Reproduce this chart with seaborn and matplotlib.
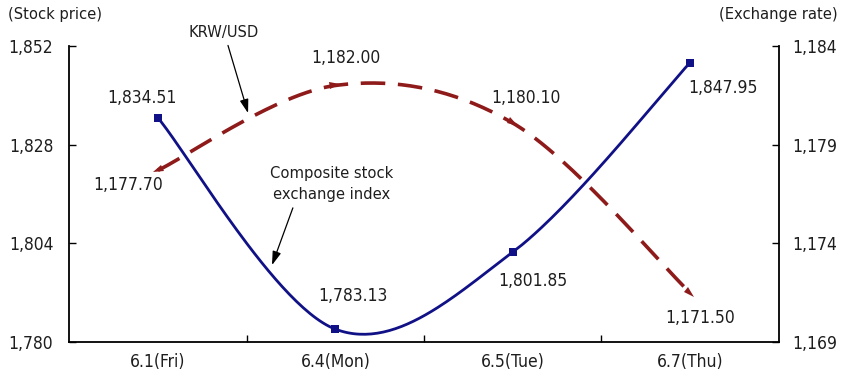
import numpy as np
import pandas as pd
import matplotlib
matplotlib.use("Agg")
import matplotlib.pyplot as plt
from matplotlib.markers import MarkerStyle
from matplotlib.transforms import Affine2D
import seaborn as sns

# ---- data ----
dates = ["6.1(Fri)", "6.4(Mon)", "6.5(Tue)", "6.7(Thu)"]
stock_index = [1834.51, 1783.13, 1801.85, 1847.95]
krw_usd = [1177.70, 1182.00, 1180.10, 1171.50]
stock_ticks = [1780, 1804, 1828, 1852]
fx_ticks = [1169, 1174, 1179, 1184]
stock_labels = ["1,834.51", "1,783.13", "1,801.85", "1,847.95"]
fx_labels = ["1,177.70", "1,182.00", "1,180.10", "1,171.50"]

sns.set_theme(style="white")
plt.rcParams["font.family"] = ["DejaVu Sans"]
plt.rcParams["font.stretch"] = "condensed"
TXT = "#1e1e1e"
BLUE = "#111187"
RED = "#8e1a1a"
FS = 12.5
FS_TXT = 11.8


def smooth(xs, ys, n=60):
    """Piecewise cubic Bezier through the points (spreadsheet-style smoothing)."""
    pts = np.column_stack([xs, ys]).astype(float)
    pad = np.vstack([pts[0], pts, pts[-1]])
    out = []
    t = np.linspace(0, 1, n)[:, None]
    for i in range(len(pts) - 1):
        p0, p3 = pts[i], pts[i + 1]
        c1 = p0 + (pad[i + 2] - pad[i]) / 6
        c2 = p3 - (pad[i + 3] - pad[i + 1]) / 6
        seg = (1 - t) ** 3 * p0 + 3 * (1 - t) ** 2 * t * c1 + 3 * (1 - t) * t ** 2 * c2 + t ** 3 * p3
        out.append(seg if i == 0 else seg[1:])
    return np.vstack(out)


xpos = np.arange(len(dates))
stock_curve = pd.DataFrame(smooth(xpos, stock_index), columns=["x", "y"])
fx_curve = pd.DataFrame(smooth(xpos, krw_usd), columns=["x", "y"])

W, H = 842, 384
fig = plt.figure(figsize=(W / 100, H / 100), dpi=100)
ax = fig.add_axes([69.3 / W, 42 / H, (778.7 - 69.3) / W, 296 / H])
ax2 = ax.twinx()

# stock index line (left axis)
sns.lineplot(data=stock_curve, x="x", y="y", ax=ax, color=BLUE, lw=2.0,
             sort=False, estimator=None, legend=False)
sns.scatterplot(x=xpos, y=stock_index, ax=ax, color=BLUE, marker="s", s=28,
                edgecolor=BLUE, linewidth=0, zorder=5, legend=False)

# exchange rate line (right axis)
sns.lineplot(data=fx_curve, x="x", y="y", ax=ax2, color=RED, lw=2.6,
             sort=False, estimator=None, legend=False)
ax2.lines[-1].set_dashes([6.8, 3.5])

ax.set_xlim(-0.5, len(dates) - 0.5)
ax.set_ylim(stock_ticks[0], stock_ticks[-1])
ax2.set_ylim(fx_ticks[0], fx_ticks[-1])
fig.canvas.draw()

# small arrowheads on the exchange-rate points, oriented along the curve
disp = ax2.transData.transform(np.column_stack([xpos, krw_usd]))
for i in range(len(xpos)):
    a = disp[min(i + 1, len(xpos) - 1)] - disp[max(i - 1, 0)]
    ang = np.degrees(np.arctan2(a[1], a[0]))
    if i == 0:
        ang += 180
    m = MarkerStyle(">", transform=Affine2D().scale(1.3, 0.8).rotate_deg(ang))
    ax2.plot(xpos[i], krw_usd[i], marker=m, color=RED, ms=6, mew=0, zorder=6)

# spines and ticks
for s in ["top", "right"]:
    ax.spines[s].set_visible(False)
for s in ["top", "left", "bottom"]:
    ax2.spines[s].set_visible(False)
for sp in [ax.spines["left"], ax.spines["bottom"], ax2.spines["right"]]:
    sp.set_color("black")
    sp.set_linewidth(1.3)

ax.set_yticks(stock_ticks)
ax.set_yticklabels([f"{v:,}" for v in stock_ticks])
ax2.set_yticks(fx_ticks)
ax2.set_yticklabels([f"{v:,}" for v in fx_ticks])
ax.tick_params(axis="y", direction="in", length=5, width=1, color="black",
               pad=11.5, labelsize=FS, labelcolor=TXT, left=True)
ax2.tick_params(axis="y", direction="in", length=5, width=1, color="black",
                pad=10, labelsize=FS, labelcolor=TXT, right=True)

ax.set_xticks(xpos)
ax.set_xticklabels(dates)
ax.set_xticks(xpos[:-1] + 0.5, minor=True)
ax.tick_params(axis="x", which="major", length=0, pad=8, labelsize=FS, labelcolor=TXT)
ax.tick_params(axis="x", which="minor", direction="in", length=5, width=1,
               color="black", bottom=True)
ax.set_xlabel("")
ax.set_ylabel("")
ax2.set_ylabel("")
ax.grid(False)
ax2.grid(False)

# axis titles
fig.text(55 / W, 1 - 15 / H, "(Stock price)", ha="center", va="center", fontsize=FS_TXT, color=TXT)
fig.text(778 / W, 1 - 15 / H, "(Exchange rate)", ha="center", va="center", fontsize=FS_TXT, color=TXT)

# value labels
stock_off = [(-16, 20), (18, 33), (20, -29), (33, -25)]
fx_off = [(-30, -15), (11, 27), (13, 25), (10, -25)]
for x, v, lab, (dx, dy) in zip(xpos, stock_index, stock_labels, stock_off):
    ax.annotate(lab, (x, v), xytext=(dx, dy), textcoords="offset pixels",
                ha="center", va="center", fontsize=FS, color=TXT)
for x, v, lab, (dx, dy) in zip(xpos, krw_usd, fx_labels, fx_off):
    ax2.annotate(lab, (x, v), xytext=(dx, dy), textcoords="offset pixels",
                 ha="center", va="center", fontsize=FS, color=TXT, zorder=7)

# callouts naming the series
arrow = dict(arrowstyle="-|>,head_length=0.7,head_width=0.22", color="black",
             lw=0.9, shrinkA=2, shrinkB=0)
ax2.annotate("KRW/USD", xy=(0.508, 1180.6), xycoords="data",
             xytext=(224, H - 32), textcoords="figure pixels",
             ha="center", va="center", fontsize=FS_TXT, color=TXT, arrowprops=arrow)
ax.annotate("Composite stock\nexchange index", xy=(0.643, 1798.7), xycoords="data",
            xytext=(332, H - 184), textcoords="figure pixels",
            ha="center", va="center", fontsize=FS_TXT, color=TXT, linespacing=1.5,
            arrowprops=dict(arrow, relpos=(0.2, 0.0)))

fig.savefig("out.png", dpi=100, facecolor="white")
